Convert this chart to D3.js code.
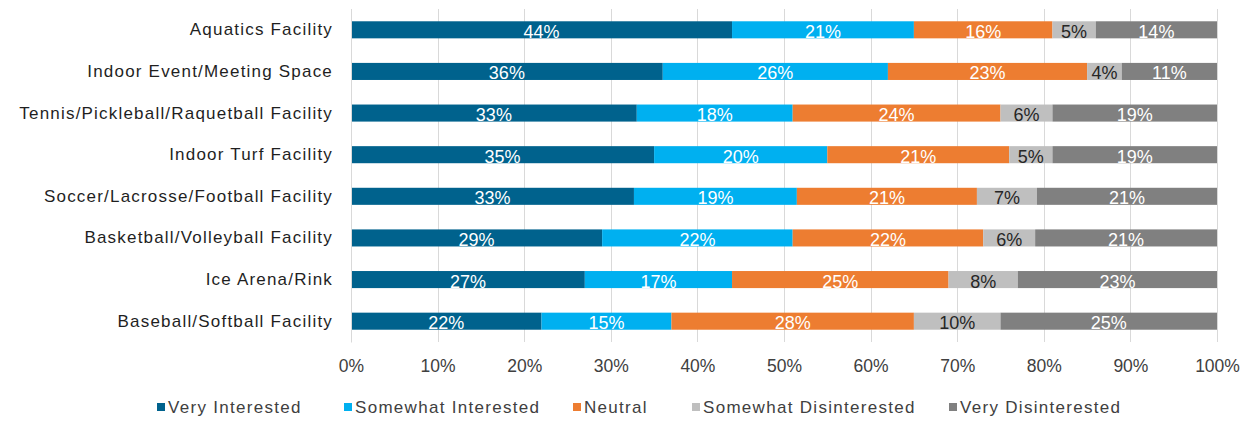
<!DOCTYPE html>
<html>
<head>
<meta charset="utf-8">
<script src="https://cdn.jsdelivr.net/npm/d3@7"></script>
<style>
  html, body { margin: 0; padding: 0; background: #fff; }
  svg { display: block; font-family: "Liberation Sans", Arial, sans-serif; }
</style>
</head>
<body>
<svg id="chart" width="1256" height="425"></svg>
<script>
// Facility interest survey: share of responses per interest level
const categories = [
  "Aquatics Facility",
  "Indoor Event/Meeting Space",
  "Tennis/Pickleball/Raquetball Facility",
  "Indoor Turf Facility",
  "Soccer/Lacrosse/Football Facility",
  "Basketball/Volleyball Facility",
  "Ice Arena/Rink",
  "Baseball/Softball Facility"
];
const seriesNames = [
  "Very Interested",
  "Somewhat Interested",
  "Neutral",
  "Somewhat Disinterested",
  "Very Disinterested"
];
const veryInterested         = [44, 36, 33, 35, 33, 29, 27, 22];
const somewhatInterested     = [21, 26, 18, 20, 19, 22, 17, 15];
const neutral                = [16, 23, 24, 21, 21, 22, 25, 28];
const somewhatDisinterested  = [5, 4, 6, 5, 7, 6, 8, 10];
const veryDisinterested      = [14, 11, 19, 19, 21, 21, 23, 25];
const tickValues = [0, 0.1, 0.2, 0.3, 0.4, 0.5, 0.6, 0.7, 0.8, 0.9, 1.0];

const colors = ["#00628d", "#00b0f0", "#ed7d31", "#bfbfbf", "#808080"];
const labelColors = ["#ffffff", "#ffffff", "#ffffff", "#262626", "#ffffff"];

const seriesValues = [veryInterested, somewhatInterested, neutral, somewhatDisinterested, veryDisinterested];
const rows = categories.map((c, i) => {
  const r = { category: c };
  seriesNames.forEach((s, j) => r[s] = seriesValues[j][i]);
  return r;
});

const svg = d3.select("#chart");
const margin = { left: 351, right: 39, top: 9, bottom: 83 };
const W = 1256, H = 425;

const x = d3.scaleLinear().domain([0, 1]).range([margin.left, W - margin.right]);
const y = d3.scaleBand().domain(categories).range([margin.top, H - margin.bottom]).paddingInner(0.59).paddingOuter(0.295);

// vertical gridlines
svg.append("g")
  .selectAll("line")
  .data(tickValues)
  .join("line")
  .attr("x1", d => Math.round(x(d)) + 0.5)
  .attr("x2", d => Math.round(x(d)) + 0.5)
  .attr("y1", margin.top)
  .attr("y2", H - margin.bottom)
  .attr("stroke", "#d9d9d9")
  .attr("stroke-width", 1);

const stack = d3.stack().keys(seriesNames).offset(d3.stackOffsetExpand);
const stacked = stack(rows);

const layers = svg.append("g").selectAll("g")
  .data(stacked)
  .join("g")
  .attr("fill", (d, i) => colors[i]);

layers.selectAll("rect")
  .data(d => d)
  .join("rect")
  .attr("x", d => x(d[0]))
  .attr("width", d => x(d[1]) - x(d[0]))
  .attr("y", d => y(d.data.category))
  .attr("height", y.bandwidth());

// segment value labels
stacked.forEach((layer, i) => {
  svg.append("g").selectAll("text")
    .data(layer)
    .join("text")
    .attr("x", d => (x(d[0]) + x(d[1])) / 2)
    .attr("y", d => y(d.data.category) + y.bandwidth() / 2 + 1.5)
    .attr("dy", "0.36em")
    .attr("text-anchor", "middle")
    .attr("font-size", "18px")
    .attr("fill", labelColors[i])
    .text(d => d.data[layer.key] + "%");
});

// category axis (left)
const yAxis = svg.append("g")
  .attr("transform", `translate(${margin.left},0)`)
  .call(d3.axisLeft(y).tickSize(0).tickPadding(18));
yAxis.select(".domain").attr("stroke", "#d9d9d9");
yAxis.selectAll("text")
  .attr("font-size", "17px")
  .attr("letter-spacing", "1.2px")
  .attr("font-family", "Liberation Sans, Arial, sans-serif")
  .attr("fill", "#1f1f1f");

// percentage axis (bottom)
const xAxis = svg.append("g")
  .attr("transform", `translate(0,${H - margin.bottom})`)
  .call(d3.axisBottom(x).tickValues(tickValues).tickFormat(d3.format(".0%")).tickSize(0).tickPadding(18));
xAxis.select(".domain").remove();
xAxis.selectAll("text")
  .attr("font-size", "17.5px")
  .attr("font-family", "Liberation Sans, Arial, sans-serif")
  .attr("fill", "#404040");

// legend
const legendX = [157, 344, 573, 692, 949];
const legend = svg.append("g").selectAll("g")
  .data(seriesNames)
  .join("g")
  .attr("transform", (d, i) => `translate(${legendX[i]},407)`);
legend.append("rect")
  .attr("x", 0).attr("y", -4)
  .attr("width", 8).attr("height", 8)
  .attr("fill", (d, i) => colors[i]);
legend.append("text")
  .attr("x", 11)
  .attr("dy", "0.36em")
  .attr("font-size", "17px")
  .attr("letter-spacing", "1.3px")
  .attr("fill", "#404040")
  .text(d => d);
</script>
</body>
</html>
